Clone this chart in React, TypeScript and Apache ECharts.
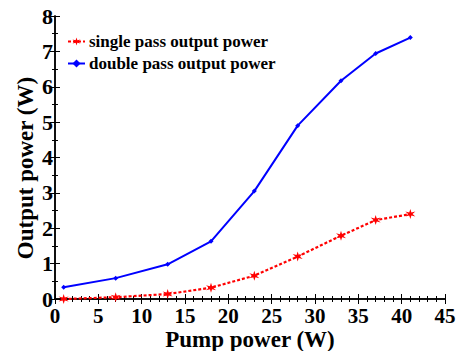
import React, { useEffect, useRef } from "react";
import * as echarts from "echarts";

const pumpPower = [1, 7, 13, 18, 23, 28, 33, 37, 41];
const singlePass = [0.0, 0.05, 0.14, 0.32, 0.66, 1.2, 1.79, 2.23, 2.4];
const doublePass = [0.33, 0.59, 0.98, 1.63, 3.05, 4.9, 6.17, 6.94, 7.39];
const seriesNames = ["single pass output power", "double pass output power"];
const xTitle = "Pump power (W)";
const yTitle = "Output power (W)";

const FONT = "Liberation Serif";
const STAR =
  "path://M0,-10 L2,-3 L9,-5 L4,0 L9,5 L2,3 L0,10 L-2,3 L-9,5 L-4,0 L-9,-5 L-2,-3 Z";

export default function App() {
  const ref = useRef<HTMLDivElement>(null);
  useEffect(() => {
    if (!ref.current) return;
    const chart = echarts.init(ref.current, undefined, { renderer: "svg" });
    const axisCommon = {
      axisLine: { show: true, lineStyle: { color: "#000", width: 1.5 } },
      axisTick: { show: true, inside: true, length: 5, lineStyle: { color: "#000", width: 1 } },
      minorTick: { show: true, length: 3, lineStyle: { color: "#000", width: 1 } },
      splitLine: { show: false },
    };
    chart.setOption({
      animation: false,
      backgroundColor: "#fff",
      grid: { left: 55, right: 15, top: 16, bottom: 52, containLabel: false },
      legend: {
        orient: "vertical",
        left: 62,
        top: 28,
        itemWidth: 17,
        itemHeight: 10,
        itemGap: 5,
        textStyle: { fontFamily: FONT, fontWeight: "bold", fontSize: 17, color: "#000", padding: [0, 0, 0, -1] },
        data: seriesNames,
      },
      xAxis: [
        {
          ...axisCommon,
          type: "value",
          min: 0,
          max: 45,
          interval: 5,
          minorTick: { ...axisCommon.minorTick, splitNumber: 5 },
          axisLabel: { fontFamily: FONT, fontWeight: "bold", fontSize: 21, lineHeight: 16, color: "#000", margin: 9 },
        },
        {
          ...axisCommon,
          type: "value",
          position: "top",
          min: 0,
          max: 45,
          interval: 5,
          minorTick: { ...axisCommon.minorTick, splitNumber: 5 },
          axisLabel: { show: false },
        },
      ],
      yAxis: [
        {
          ...axisCommon,
          type: "value",
          min: 0,
          max: 8,
          interval: 1,
          minorTick: { ...axisCommon.minorTick, splitNumber: 2 },
          axisLabel: { fontFamily: FONT, fontWeight: "bold", fontSize: 22, lineHeight: 16, color: "#000", margin: 2 },
        },
        {
          ...axisCommon,
          type: "value",
          position: "right",
          min: 0,
          max: 8,
          interval: 1,
          minorTick: { ...axisCommon.minorTick, splitNumber: 2 },
          axisLabel: { show: false },
        },
      ],
      series: [
        {
          name: seriesNames[0],
          type: "line",
          data: pumpPower.map((x, i) => [x, singlePass[i]]),
          symbol: STAR,
          symbolSize: 10,
          itemStyle: { color: "#ff0000" },
          lineStyle: { color: "#ff0000", width: 2.2, type: [3, 2] },
        },
        {
          name: seriesNames[1],
          type: "line",
          data: pumpPower.map((x, i) => [x, doublePass[i]]),
          symbol: "diamond",
          symbolSize: 5,
          itemStyle: { color: "#0000ff" },
          lineStyle: { color: "#0000ff", width: 2 },
        },
      ],
      graphic: [
        {
          type: "text",
          x: 250,
          y: 339,
          style: {
            text: xTitle,
            fontFamily: FONT,
            fontWeight: "bold",
            fontSize: 23,
            lineHeight: 18,
            fill: "#000",
            textAlign: "center",
            textVerticalAlign: "middle",
          },
        },
        {
          type: "text",
          x: 25,
          y: 168,
          rotation: Math.PI / 2,
          style: {
            text: yTitle,
            fontFamily: FONT,
            fontWeight: "bold",
            fontSize: 23,
            fill: "#000",
            textAlign: "center",
            textVerticalAlign: "middle",
          },
        },
      ],
    });
    return () => chart.dispose();
  }, []);
  return <div ref={ref} style={{ width: 460, height: 351, position: "absolute", left: 0, top: 0 }} />;
}
